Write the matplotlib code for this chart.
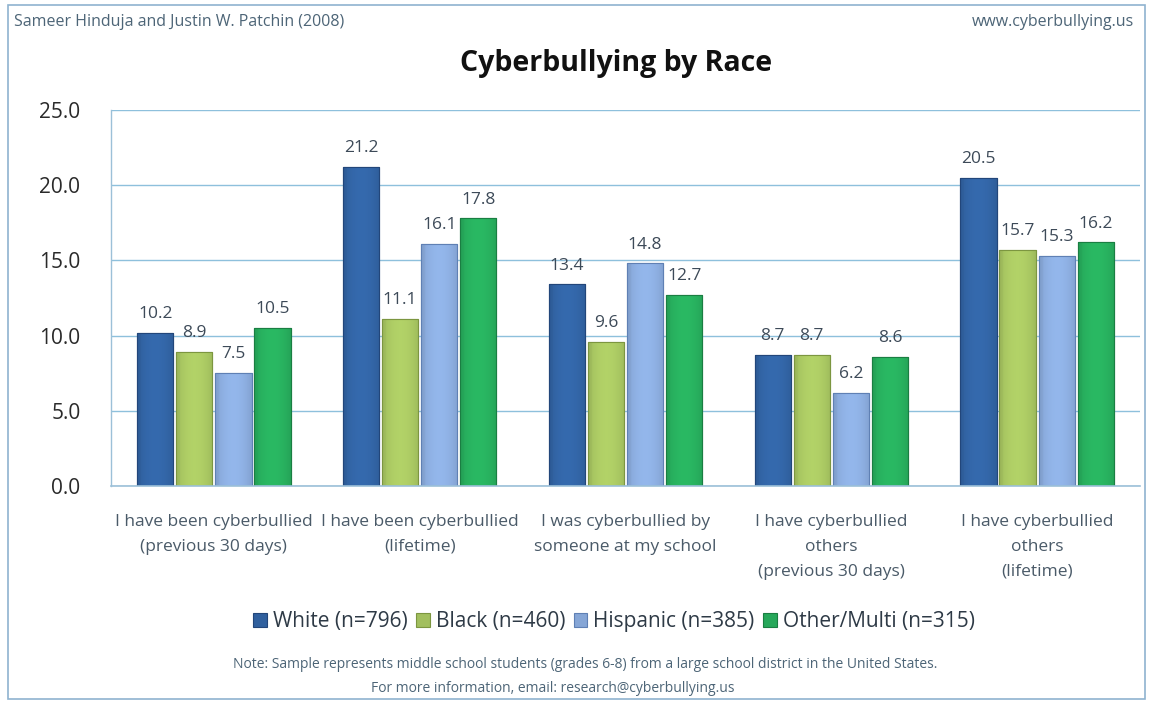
import numpy as np
import matplotlib
matplotlib.use("Agg")
import matplotlib.pyplot as plt
from matplotlib.patches import Rectangle
from matplotlib.colors import to_rgb

categories = [
    "I have been cyberbullied\n(previous 30 days)",
    "I have been cyberbullied\n(lifetime)",
    "I was cyberbullied by\nsomeone at my school",
    "I have cyberbullied\nothers\n(previous 30 days)",
    "I have cyberbullied\nothers\n(lifetime)",
]
series_names = ["White (n=796)", "Black (n=460)", "Hispanic (n=385)", "Other/Multi (n=315)"]
white = [10.2, 21.2, 13.4, 8.7, 20.5]
black = [8.9, 11.1, 9.6, 8.7, 15.7]
hispanic = [7.5, 16.1, 14.8, 6.2, 15.3]
other = [10.5, 17.8, 12.7, 8.6, 16.2]
y_ticks = [0.0, 5.0, 10.0, 15.0, 20.0, 25.0]

series = [white, black, hispanic, other]
colors = ["#30609e", "#a2bf5e", "#86a6d6", "#26a85a"]
edges = ["#22467a", "#7c9640", "#5f80b4", "#1a7e42"]

FONT = ["Open Sans", "DejaVu Sans"]
plt.rcParams["font.family"] = FONT

fig = plt.figure(figsize=(11.52, 7.03), dpi=100)
fig.patch.set_facecolor("white")

# outer frame
fig.add_artist(Rectangle((8 / 1152, 4 / 703), 1137 / 1152, 694 / 703,
                         transform=fig.transFigure, fill=False,
                         edgecolor="#8fb3cf", linewidth=1.2))

ax = fig.add_axes([111 / 1152, (703 - 486) / 703, 1029 / 1152, 376 / 703])
ax.set_xlim(-0.5, 4.5)
ax.set_ylim(0, 25)

for s in ["top", "right"]:
    ax.spines[s].set_visible(False)
ax.spines["left"].set_color("#9cc0d8")
ax.spines["bottom"].set_color("#9cc0d8")
ax.spines["left"].set_linewidth(1.0)
ax.spines["bottom"].set_linewidth(1.2)

ax.set_yticks(y_ticks)
ax.set_yticklabels([f"{v:.1f}" for v in y_ticks], fontsize=15, color="#2a2a2a")
ax.tick_params(axis="y", length=0, pad=22)
ax.yaxis.grid(True, color="#8ec0dc", linewidth=1.0)
ax.set_axisbelow(True)

x = np.arange(len(categories))
width = 0.176
step = 0.19
offsets = (np.arange(4) - 1.5) * step

# horizontal shading across each bar
shade = np.linspace(-1, 1, 64)
shade_profile = 1 - 0.35 * shade ** 2 - 0.1 * (shade < -0.8)

for k, (vals, c, ec) in enumerate(zip(series, colors, edges)):
    bars = ax.bar(x + offsets[k], vals, width, color=c, edgecolor=ec,
                  linewidth=0.8, label=series_names[k], zorder=2)
    base = np.array(to_rgb(c))
    img = np.clip(base[None, :] * (0.75 + 0.35 * shade_profile[:, None]), 0, 1)
    img = img[None, :, :]
    for b, v in zip(bars, vals):
        x0 = b.get_x()
        im = ax.imshow(img, extent=[x0, x0 + width, 0, v], aspect="auto",
                       zorder=2.1, interpolation="bilinear")
        im.set_clip_path(b)
        ax.add_patch(Rectangle((x0, 0), width, v, fill=False, edgecolor=ec,
                               linewidth=0.8, zorder=2.2))
        ax.annotate(f"{v:.1f}", (x0 + width / 2, v), xytext=(0, 13.5),
                    textcoords="offset points", ha="center", va="center",
                    fontsize=12.5, color="#3d4a58", zorder=3)

ax.set_xticks(x)
ax.set_xticklabels(categories, fontsize=12.5, color="#4a5a68", linespacing=1.75)
ax.tick_params(axis="x", length=0, pad=20)

fig.text(0.535, 1 - 64 / 703, "Cyberbullying by Race", ha="center", va="center",
         fontsize=20.5, fontweight="bold", color="#111111")
fig.text(14 / 1152, 1 - 22 / 703, "Sameer Hinduja and Justin W. Patchin (2008)",
         ha="left", va="center", fontsize=11.5, color="#4d6577")
fig.text(1134 / 1152, 1 - 22 / 703, "www.cyberbullying.us",
         ha="right", va="center", fontsize=11.5, color="#4d6577")

leg = fig.legend(loc="center", bbox_to_anchor=(0.533, 1 - 622 / 703), ncol=4,
                 frameon=False, fontsize=15, handlelength=0.65, handleheight=0.65,
                 handletextpad=0.3, columnspacing=0.4)
for t in leg.get_texts():
    t.set_color("#2e3a46")

fig.text(0.508, 1 - 665 / 703,
         "Note: Sample represents middle school students (grades 6-8) from a large school district in the United States.",
         ha="center", va="center", fontsize=10, color="#4d6577")
fig.text(0.48, 1 - 688 / 703, "For more information, email: research@cyberbullying.us",
         ha="center", va="center", fontsize=10, color="#4d6577")

fig.savefig("out.png", dpi=100)
